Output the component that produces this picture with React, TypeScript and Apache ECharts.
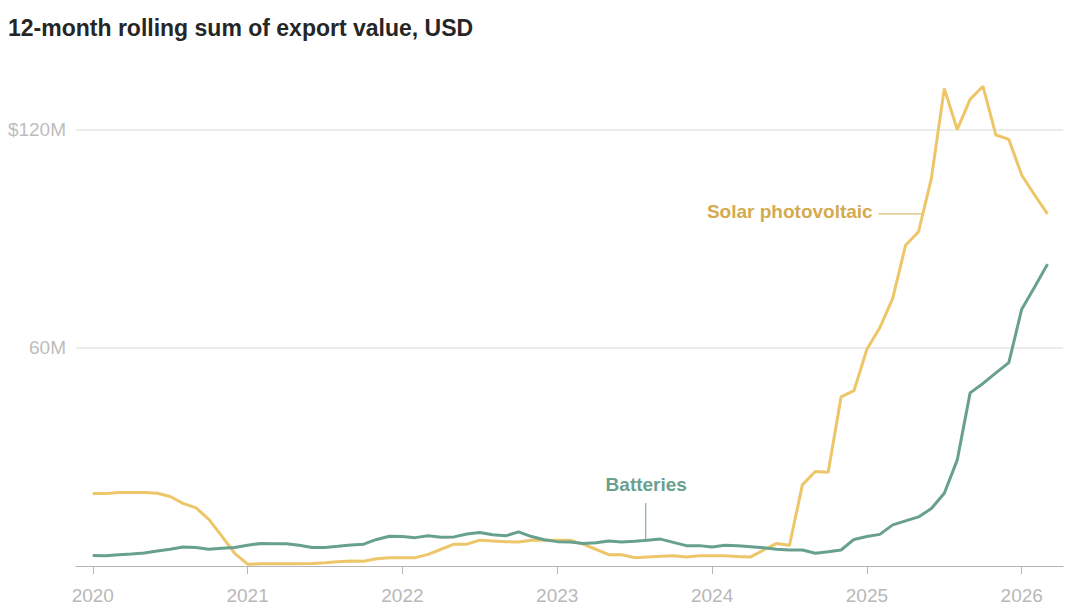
import { useEffect, useRef } from 'react';
import * as echarts from 'echarts';

// monthly values, Jan 2020 .. Mar 2026, millions of USD
const solarPV = [
  19.9, 19.9, 20.2, 20.2, 20.2, 20.0, 19.1, 17.2, 16.0, 12.8, 8.2, 3.5,
  0.5, 0.6, 0.6, 0.6, 0.6, 0.7, 0.9, 1.2, 1.4, 1.3, 2.0, 2.3,
  2.3, 2.3, 3.2, 4.6, 6.0, 6.0, 7.1, 6.9, 6.7, 6.6, 7.1, 7.1,
  7.1, 7.1, 6.0, 4.6, 3.1, 3.1, 2.3, 2.5, 2.7, 2.8, 2.5, 2.8,
  2.8, 2.8, 2.6, 2.5, 4.4, 6.2, 5.7, 22.3, 26.0, 25.8, 46.5, 48.2,
  59.6, 65.5, 73.6, 88.2, 91.9, 106.6, 131.3, 120.0, 128.3, 131.9, 118.5, 117.3,
  107.5, 102.0, 96.8,
];

const batteries = [
  2.9, 2.8, 3.1, 3.3, 3.6, 4.1, 4.6, 5.2, 5.1, 4.6, 4.9, 5.1,
  5.7, 6.2, 6.1, 6.1, 5.7, 5.1, 5.1, 5.4, 5.8, 6.0, 7.3, 8.2,
  8.1, 7.8, 8.3, 7.9, 8.0, 8.8, 9.2, 8.6, 8.3, 9.4, 8.1, 7.2,
  6.7, 6.6, 6.2, 6.4, 6.9, 6.6, 6.8, 7.1, 7.4, 6.5, 5.6, 5.6,
  5.2, 5.7, 5.6, 5.3, 5.0, 4.6, 4.4, 4.4, 3.5, 3.9, 4.4, 7.3,
  8.1, 8.7, 11.3, 12.4, 13.5, 15.8, 20.0, 29.1, 47.6, 50.2, 53.1, 55.9,
  70.6, 76.7, 83.0,
];

const START_YEAR = 2020;
const yearTicks = [0, 12, 24, 36, 48, 60, 72]; // month index of each January
const yGridValues = [60, 120];
const yLabels: Record<number, string> = { 60: '60M', 120: '$120M' };

const SOLAR = '#eec66a';
const SOLAR_TEXT = '#d4aa4f';
const BATT = '#68a08f';
const BATT_TEXT = '#6b9f8f';
const FONT = '"Liberation Sans", Arial, sans-serif';

export default function App() {
  const ref = useRef<HTMLDivElement>(null);

  useEffect(() => {
    document.body.style.margin = '0';
    if (!ref.current) return;
    const chart = echarts.init(ref.current, null, { renderer: 'svg' });

    chart.setOption({
      animation: false,
      title: {
        text: '12-month rolling sum of export value, USD',
        left: 3, top: 11,
        textStyle: { fontFamily: FONT, fontSize: 23, fontWeight: 'bold', color: '#262626' },
      },
      grid: { left: 76, right: 6, top: 75, bottom: 45 },
      xAxis: {
        type: 'value', min: -1.3, max: 75.2,
        axisLine: { lineStyle: { color: '#b5b5b5', width: 1 } },
        axisTick: { show: true, length: 8, customValues: yearTicks, lineStyle: { color: '#b5b5b5' } },
        axisLabel: {
          customValues: yearTicks, margin: 20,
          formatter: (v: number) => String(START_YEAR + Math.round(v / 12)),
          fontFamily: FONT, fontSize: 19, color: '#b8b8b8',
        },
        splitLine: { show: false },
      },
      yAxis: {
        type: 'value', min: 0, max: 135,
        axisLine: { show: false }, axisTick: { show: false },
        axisLabel: {
          margin: 10, customValues: yGridValues,
          formatter: (v: number) => yLabels[v] ?? '',
          fontFamily: FONT, fontSize: 19, color: '#bdbdbd',
        },
        splitLine: { show: false },
      },
      series: [
        {
          name: 'Solar photovoltaic', type: 'line', symbol: 'none',
          data: solarPV.map((v, i) => [i, v]),
          lineStyle: { color: SOLAR, width: 3 }, z: 2,
          markLine: {
            silent: true, symbol: 'none', label: { show: false },
            lineStyle: { color: '#e6e6e6', width: 1.5, type: 'solid' },
            data: yGridValues.map((v) => ({ yAxis: v })),
            z: 0,
          },
        },
        {
          name: 'Batteries', type: 'line', symbol: 'none',
          data: batteries.map((v, i) => [i, v]),
          lineStyle: { color: BATT, width: 3 }, z: 3,
        },
      ],
    });

    // annotations anchored in data coordinates
    const px = (m: number, v: number) => chart.convertToPixel({ gridIndex: 0 }, [m, v]) as number[];
    const sA = px(60.9, 96.8), sB = px(64.3, 96.8), sT = px(60.45, 97.6);
    const bA = px(42.86, 17.3), bB = px(42.86, 7.15), bT = px(42.9, 22.3);
    chart.setOption({
      graphic: [
        { type: 'line', shape: { x1: sA[0], y1: sA[1], x2: sB[0], y2: sB[1] }, style: { stroke: SOLAR_TEXT, lineWidth: 1 } },
        {
          type: 'text', x: sT[0], y: sT[1],
          style: { text: 'Solar photovoltaic', fill: SOLAR_TEXT, font: `bold 19px ${FONT}`, textAlign: 'right', textVerticalAlign: 'middle' },
        },
        { type: 'line', shape: { x1: bA[0], y1: bA[1], x2: bB[0], y2: bB[1] }, style: { stroke: BATT_TEXT, lineWidth: 1 } },
        {
          type: 'text', x: bT[0], y: bT[1],
          style: { text: 'Batteries', fill: BATT_TEXT, font: `bold 19px ${FONT}`, textAlign: 'center', textVerticalAlign: 'middle' },
        },
      ],
    });

    const onResize = () => chart.resize();
    window.addEventListener('resize', onResize);
    return () => { window.removeEventListener('resize', onResize); chart.dispose(); };
  }, []);

  return <div ref={ref} style={{ width: 1069, height: 611 }} />;
}
